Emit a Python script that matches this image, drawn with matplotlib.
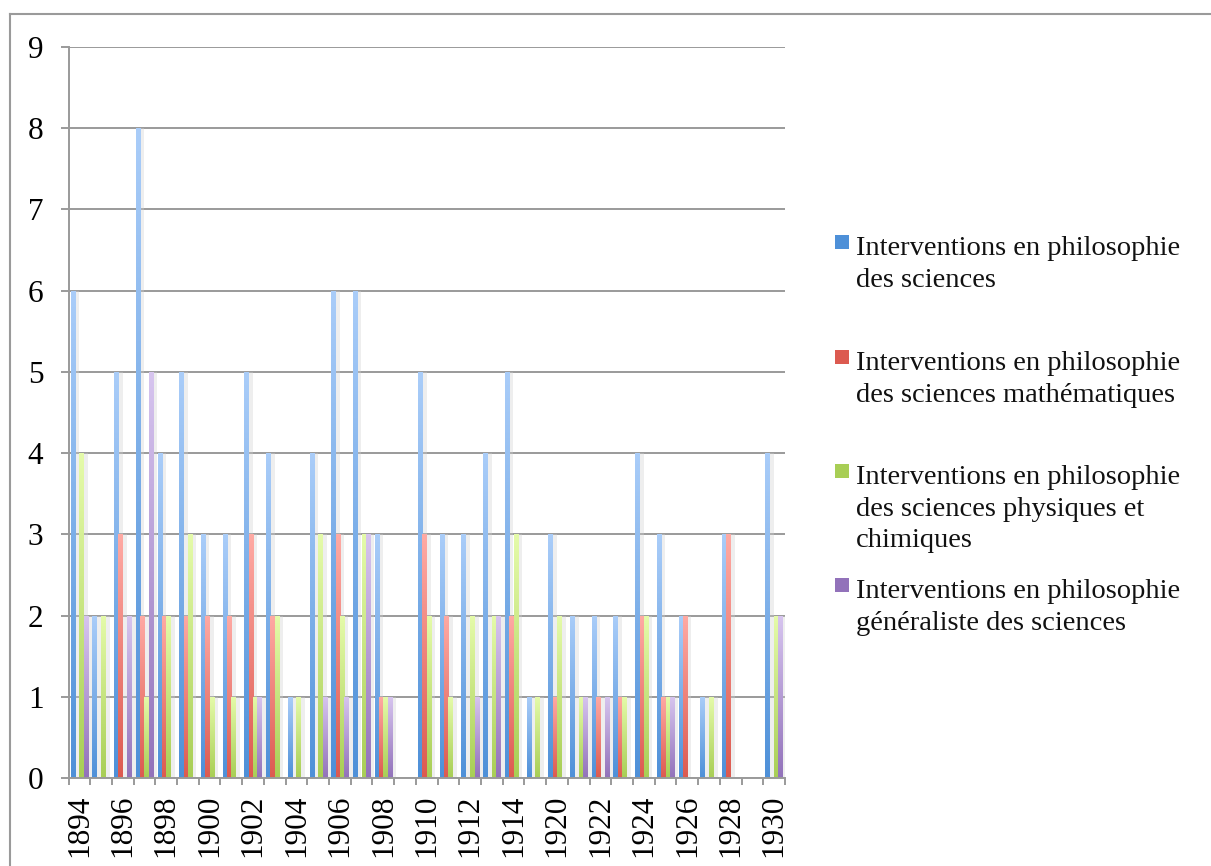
import matplotlib
matplotlib.use("Agg")
import matplotlib.pyplot as plt
import matplotlib.patheffects as pe
import numpy as np
from matplotlib.colors import LinearSegmentedColormap
from matplotlib.lines import Line2D
from matplotlib.patches import Rectangle

# Années (une catégorie par année, une étiquette sur deux affichée)
annees = [str(a) for a in range(1894, 1915)] + ["1919"] + [str(a) for a in range(1920, 1931)]

# Nombre d'interventions par année et par type
philo_sciences = [6, 2, 5, 8, 4, 5, 3, 3, 5, 4, 1, 4, 6, 6, 3, 0, 5, 3, 3, 4, 5, 1, 3, 2, 2, 2, 4, 3, 2, 1, 3, 0, 4]
philo_maths = [0, 0, 3, 2, 2, 2, 2, 2, 3, 2, 0, 0, 3, 0, 1, 0, 3, 2, 0, 0, 2, 0, 1, 0, 1, 1, 2, 1, 2, 0, 3, 0, 0]
philo_physique = [4, 2, 0, 1, 2, 3, 1, 1, 1, 2, 1, 3, 2, 3, 1, 0, 2, 1, 2, 2, 3, 1, 2, 1, 0, 1, 2, 1, 0, 1, 0, 0, 2]
philo_generale = [2, 0, 2, 5, 0, 0, 0, 0, 1, 0, 0, 1, 1, 3, 1, 0, 0, 0, 1, 2, 0, 0, 0, 1, 1, 0, 0, 1, 0, 0, 0, 0, 2]

series = [philo_sciences, philo_maths, philo_physique, philo_generale]
libelles = [
    "Interventions en philosophie\ndes sciences",
    "Interventions en philosophie\ndes sciences mathématiques",
    "Interventions en philosophie\ndes sciences physiques et\nchimiques",
    "Interventions en philosophie\ngénéraliste des sciences",
]
# (bas, haut) du dégradé de chaque série
degrades = [
    ("#4E90D8", "#AACDF9"),
    ("#DC5A50", "#FFAAA4"),
    ("#A8CE55", "#E5FBAA"),
    ("#9272BA", "#D7C5EF"),
]

police = "Liberation Serif"
taille = 20.5
taille_ticks = 22.5
gris = "#9A9A9A"

W, H = 1211, 866
fig = plt.figure(figsize=(W / 100, H / 100), dpi=100)
ax = fig.add_axes([68.5 / W, 1 - 778 / H, (785 - 68.5) / W, (778 - 47) / H])

x = np.arange(len(annees))
largeur = 0.2
gradient = np.linspace(0, 1, 256).reshape(-1, 1)

for i, (valeurs, (bas, haut)) in enumerate(zip(series, degrades)):
    cmap = LinearSegmentedColormap.from_list(f"s{i}", [bas, haut])
    barres = ax.bar(x + (i - 1.5) * largeur, valeurs, largeur, color=bas, linewidth=0, zorder=3)
    for b in barres:
        if b.get_height() <= 0:
            continue
        b.set_path_effects([pe.SimplePatchShadow(offset=(3, 0), shadow_rgbFace="#d0d0d0", alpha=0.35), pe.Normal()])
        x0, hauteur = b.get_x(), b.get_height()
        im = ax.imshow(gradient, cmap=cmap, origin="lower", aspect="auto",
                       extent=(x0, x0 + b.get_width(), 0, hauteur), zorder=4)
        im.set_clip_path(b)

ax.set_xlim(-0.5, len(annees) - 0.5)
ax.set_ylim(0, 9)

# Axes et grille
ax.set_yticks(range(10))
ax.yaxis.grid(True, color=gris, linewidth=1.4, zorder=1)
ax.set_axisbelow(True)
for cote in ["top", "right"]:
    ax.spines[cote].set_visible(False)
for cote in ["left", "bottom"]:
    ax.spines[cote].set_color(gris)
    ax.spines[cote].set_linewidth(1.4)
    ax.spines[cote].set_zorder(5)

ax.set_xticks(x[::2])
ax.set_xticklabels(annees[::2], rotation=90, fontfamily=police, fontsize=taille_ticks)
ax.set_xticks(np.arange(-0.5, len(annees), 1), minor=True)
ax.tick_params(axis="x", which="major", length=0, pad=12)
ax.tick_params(axis="x", which="minor", length=5, width=1.4, color=gris)
ax.tick_params(axis="y", length=6, width=1.4, color=gris, pad=12, labelsize=taille_ticks)
for t in ax.get_yticklabels():
    t.set_fontfamily(police)

# Légende à droite
y_hauts = [235, 350, 464, 578]
for (bas, haut), texte, yh in zip(degrades, libelles, y_hauts):
    carre = Rectangle((835 / W, 1 - (yh + 14) / H), 14 / W, 14 / H, transform=fig.transFigure,
                      facecolor=bas, edgecolor="none")
    fig.patches.append(carre)
    fig.text(856 / W, 1 - (yh + 1) / H, texte, fontfamily=police, fontsize=taille,
             va="top", ha="left", linespacing=1.35, color="#111111")

# Cadre extérieur du graphique
fig.add_artist(Line2D([10 / W, 10 / W], [0, 1 - 14 / H], transform=fig.transFigure, color=gris, linewidth=1.5))
fig.add_artist(Line2D([10 / W, 1], [1 - 14 / H, 1 - 14 / H], transform=fig.transFigure, color=gris, linewidth=1.5))

fig.savefig("out.png", dpi=100)
